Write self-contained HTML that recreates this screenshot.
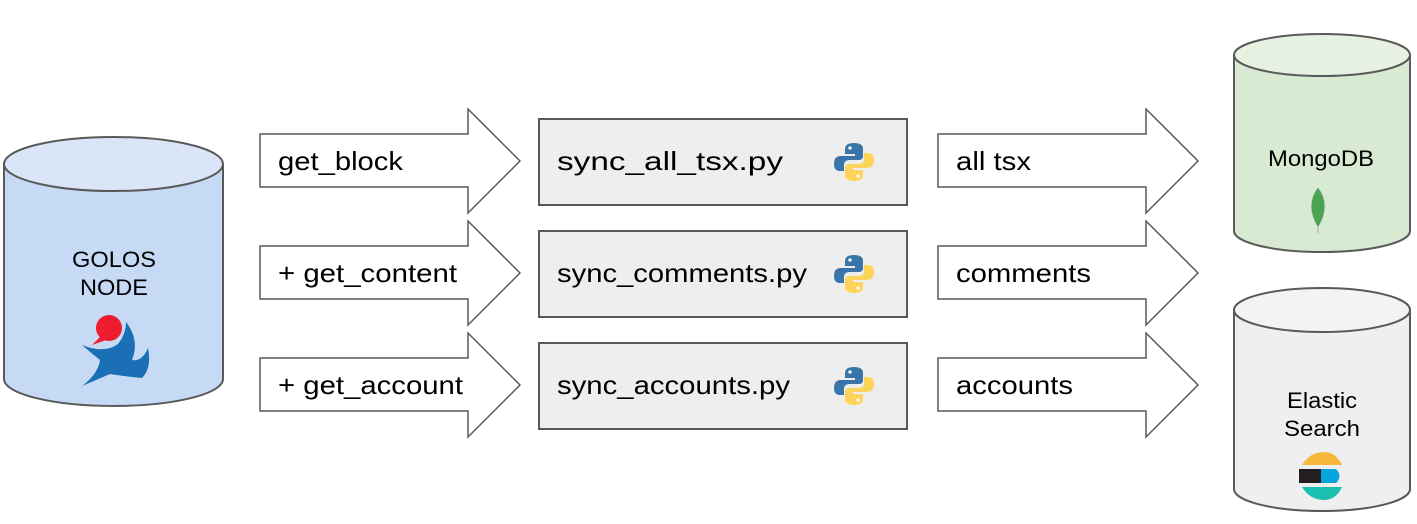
<!DOCTYPE html>
<html><head><meta charset="utf-8"><style>
html,body{margin:0;padding:0;background:#fff;}
svg text{font-family:"Liberation Sans",Arial,sans-serif;}
</style></head><body>
<svg width="1417" height="519" viewBox="0 0 1417 519" xmlns="http://www.w3.org/2000/svg">
<!-- GOLOS cylinder -->
<path d="M4,164 L4,379 A109.5,27 0 0 0 223,379 L223,164" fill="#c6daf5" stroke="#595959" stroke-width="2"/>
<ellipse cx="113.5" cy="164" rx="109.5" ry="27" fill="#dae6f7" stroke="#595959" stroke-width="2"/>
<text x="72" y="267" font-size="22" textLength="84" lengthAdjust="spacingAndGlyphs">GOLOS</text>
<text x="80" y="295" font-size="22" textLength="68" lengthAdjust="spacingAndGlyphs">NODE</text>
<path d="M126,322 Q140,340 132,360 Q142,362 148,348 Q152,368 142,378 Q122,376 110,374 Q96,380 82,386 Q98,374 100,360 Q90,352 82,345 Q104,354 118,344 Q126,334 126,322 Z" fill="#1a6fb5"/>
<circle cx="109" cy="328" r="13" fill="#ee1c2e"/>
<path d="M100,337 L92,345 L106,340 Z" fill="#ee1c2e"/>
<!-- Mongo cylinder -->
<path d="M1234,55 L1234,231 A88,21 0 0 0 1410,231 L1410,55" fill="#d9ead3" stroke="#595959" stroke-width="2"/>
<ellipse cx="1322" cy="55" rx="88" ry="21" fill="#e6f1e2" stroke="#595959" stroke-width="2"/>
<text x="1268" y="166" font-size="22" textLength="106" lengthAdjust="spacingAndGlyphs">MongoDB</text>
<path d="M1318,187 Q1304,205 1318,228 Q1332,205 1318,187 Z" fill="#4aa552" stroke="#ddd" stroke-width="0.7"/>
<line x1="1318" y1="226" x2="1318" y2="233" stroke="#bbb" stroke-width="1.5"/>
<!-- Elastic cylinder -->
<path d="M1234,310 L1234,489 A88,22 0 0 0 1410,489 L1410,310" fill="#efefef" stroke="#595959" stroke-width="2"/>
<ellipse cx="1322" cy="310" rx="88" ry="22" fill="#f3f3f3" stroke="#595959" stroke-width="2"/>
<text x="1287" y="408" font-size="22" textLength="70" lengthAdjust="spacingAndGlyphs">Elastic</text>
<text x="1284" y="436" font-size="22" textLength="76" lengthAdjust="spacingAndGlyphs">Search</text>
<path d="M1302,465 Q1310,452 1324,452 Q1336,452 1342,465 Z" fill="#f6b93b"/>
<rect x="1299" y="469" width="22" height="14" fill="#231f20"/>
<path d="M1321,469 L1336,469 Q1343,476 1336,483 L1321,483 Z" fill="#07a5de"/>
<path d="M1302,487 L1342,487 Q1336,500 1324,500 Q1310,500 1302,487 Z" fill="#1bbfaf"/>
<!-- arrows -->
<g fill="#fff" stroke="#595959" stroke-width="1.5">
<path d="M260,134 L468,134 L468,109 L520,161 L468,213 L468,187 L260,187 Z"/>
<path d="M260,246 L468,246 L468,221 L520,273 L468,325 L468,299 L260,299 Z"/>
<path d="M260,358 L468,358 L468,333 L520,385 L468,437 L468,411 L260,411 Z"/>
<path d="M938,134 L1146,134 L1146,109 L1198,161 L1146,213 L1146,187 L938,187 Z"/>
<path d="M938,246 L1146,246 L1146,221 L1198,273 L1146,325 L1146,299 L938,299 Z"/>
<path d="M938,358 L1146,358 L1146,333 L1198,385 L1146,437 L1146,411 L938,411 Z"/>
</g>
<g font-size="26" lengthAdjust="spacingAndGlyphs">
<text x="278" y="170" textLength="125" lengthAdjust="spacingAndGlyphs">get_block</text>
<text x="278" y="282" textLength="179" lengthAdjust="spacingAndGlyphs">+ get_content</text>
<text x="278" y="394" textLength="185" lengthAdjust="spacingAndGlyphs">+ get_account</text>
<text x="956" y="170" textLength="75" lengthAdjust="spacingAndGlyphs">all tsx</text>
<text x="956" y="282" textLength="135" lengthAdjust="spacingAndGlyphs">comments</text>
<text x="956" y="394" textLength="117" lengthAdjust="spacingAndGlyphs">accounts</text>
</g>
<!-- boxes -->
<g fill="#eeeeee" stroke="#595959" stroke-width="2">
<rect x="539" y="119" width="368" height="86"/>
<rect x="539" y="231" width="368" height="86"/>
<rect x="539" y="343" width="368" height="86"/>
</g>
<g font-size="26">
<text x="557" y="170" textLength="226" lengthAdjust="spacingAndGlyphs">sync_all_tsx.py</text>
<text x="557" y="282" textLength="250" lengthAdjust="spacingAndGlyphs">sync_comments.py</text>
<text x="557" y="394" textLength="233" lengthAdjust="spacingAndGlyphs">sync_accounts.py</text>
</g>
<defs>
<g id="py">
<path d="M0,-19 Q-9,-19 -9,-13 L-9,-8 L1,-8 L1,-6 L-13,-6 Q-20,-6 -20,2 Q-20,9 -14,9 L-10,9 L-10,3 Q-10,-2 -4,-2 L5,-2 Q9,-2 9,-6 L9,-13 Q9,-19 0,-19 Z" fill="#3a75a8"/>
<path d="M0,19 Q9,19 9,13 L9,8 L-1,8 L-1,6 L13,6 Q20,6 20,-2 Q20,-9 14,-9 L10,-9 L10,-3 Q10,2 4,2 L-5,2 Q-9,2 -9,6 L-9,13 Q-9,19 0,19 Z" fill="#fdd45a"/>
<circle cx="-4" cy="-14" r="1.6" fill="#fff"/><circle cx="4" cy="14" r="1.6" fill="#fff"/>
</g>
</defs>
<use href="#py" x="854" y="162"/>
<use href="#py" x="854" y="274"/>
<use href="#py" x="854" y="386"/>
</svg>
</body></html>
